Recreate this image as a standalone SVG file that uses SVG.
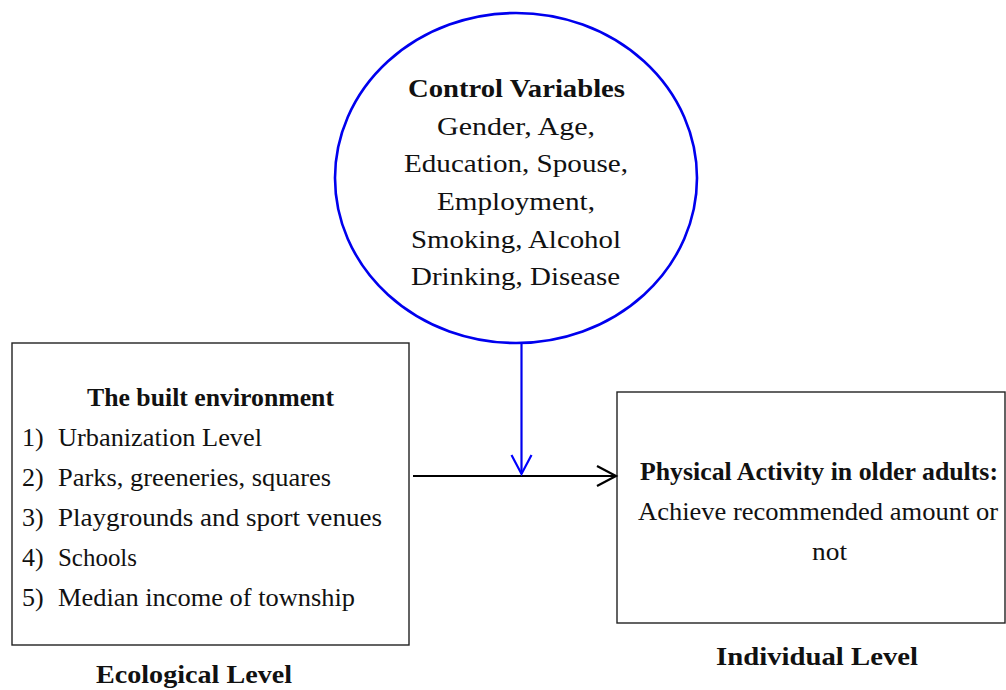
<svg xmlns="http://www.w3.org/2000/svg" width="1006" height="690" viewBox="0 0 1006 690">
<style>
text{font-family:"Liberation Serif","Times New Roman",serif;font-size:26px;fill:#111}
.b{font-weight:bold}
.box{fill:#fff;stroke:#222;stroke-width:1.4}
</style>
<defs>
<marker id="ab" markerWidth="24" markerHeight="24" refX="20" refY="11" orient="auto" markerUnits="userSpaceOnUse">
<path d="M1,1 L20,11 L1,21" fill="none" stroke="#000" stroke-width="2.2"/>
</marker>
<marker id="au" markerWidth="24" markerHeight="24" refX="20" refY="11" orient="auto" markerUnits="userSpaceOnUse">
<path d="M1,1 L20,11 L1,21" fill="none" stroke="#0000ff" stroke-width="2.2"/>
</marker>
</defs>
<rect width="1006" height="690" fill="#fff"/>
<g id="control">
<ellipse cx="516" cy="178" rx="181" ry="165" fill="#fff" stroke="#0000ee" stroke-width="2.6"/>
<text class="b" x="516.5" y="97" text-anchor="middle" textLength="217" lengthAdjust="spacingAndGlyphs">Control Variables</text>
<text x="516" y="134.5" text-anchor="middle" textLength="158" lengthAdjust="spacingAndGlyphs">Gender, Age,</text>
<text x="516" y="172" text-anchor="middle" textLength="224" lengthAdjust="spacingAndGlyphs">Education, Spouse,</text>
<text x="516" y="210" text-anchor="middle" textLength="158" lengthAdjust="spacingAndGlyphs">Employment,</text>
<text x="516" y="247.5" text-anchor="middle" textLength="210" lengthAdjust="spacingAndGlyphs">Smoking, Alcohol</text>
<text x="515.5" y="285" text-anchor="middle" textLength="209" lengthAdjust="spacingAndGlyphs">Drinking, Disease</text>
</g>
<g id="built">
<rect class="box" x="12" y="343" width="397" height="302"/>
<text class="b" x="210.5" y="406" text-anchor="middle" textLength="247" lengthAdjust="spacingAndGlyphs">The built environment</text>
<text x="22" y="446">1)</text>
<text x="58" y="446" textLength="204" lengthAdjust="spacingAndGlyphs">Urbanization Level</text>
<text x="22" y="486">2)</text>
<text x="58" y="486" textLength="273" lengthAdjust="spacingAndGlyphs">Parks, greeneries, squares</text>
<text x="22" y="526">3)</text>
<text x="58" y="526" textLength="324" lengthAdjust="spacingAndGlyphs">Playgrounds and sport venues</text>
<text x="22" y="566">4)</text>
<text x="58" y="566" textLength="79" lengthAdjust="spacingAndGlyphs">Schools</text>
<text x="22" y="606">5)</text>
<text x="58" y="606" textLength="297" lengthAdjust="spacingAndGlyphs">Median income of township</text>
</g>
<g id="ecological">
<text class="b" x="194" y="683" text-anchor="middle" textLength="196" lengthAdjust="spacingAndGlyphs">Ecological Level</text>
</g>
<g id="pa">
<rect class="box" x="617" y="392" width="388" height="231"/>
<text class="b" x="819" y="480" text-anchor="middle" textLength="358" lengthAdjust="spacingAndGlyphs">Physical Activity in older adults:</text>
<text x="818" y="520" text-anchor="middle" textLength="360" lengthAdjust="spacingAndGlyphs">Achieve recommended amount or</text>
<text x="829.5" y="560" text-anchor="middle" textLength="35" lengthAdjust="spacingAndGlyphs">not</text>
</g>
<g id="individual">
<text class="b" x="817" y="665" text-anchor="middle" textLength="202" lengthAdjust="spacingAndGlyphs">Individual Level</text>
</g>
<g id="connectors" fill="none">
<line x1="413" y1="476" x2="616" y2="476" stroke="#000" stroke-width="2.2" marker-end="url(#ab)"/>
<line x1="521.5" y1="343" x2="521.5" y2="474" stroke="#0000ee" stroke-width="2.2" marker-end="url(#au)"/>
</g>
</svg>
